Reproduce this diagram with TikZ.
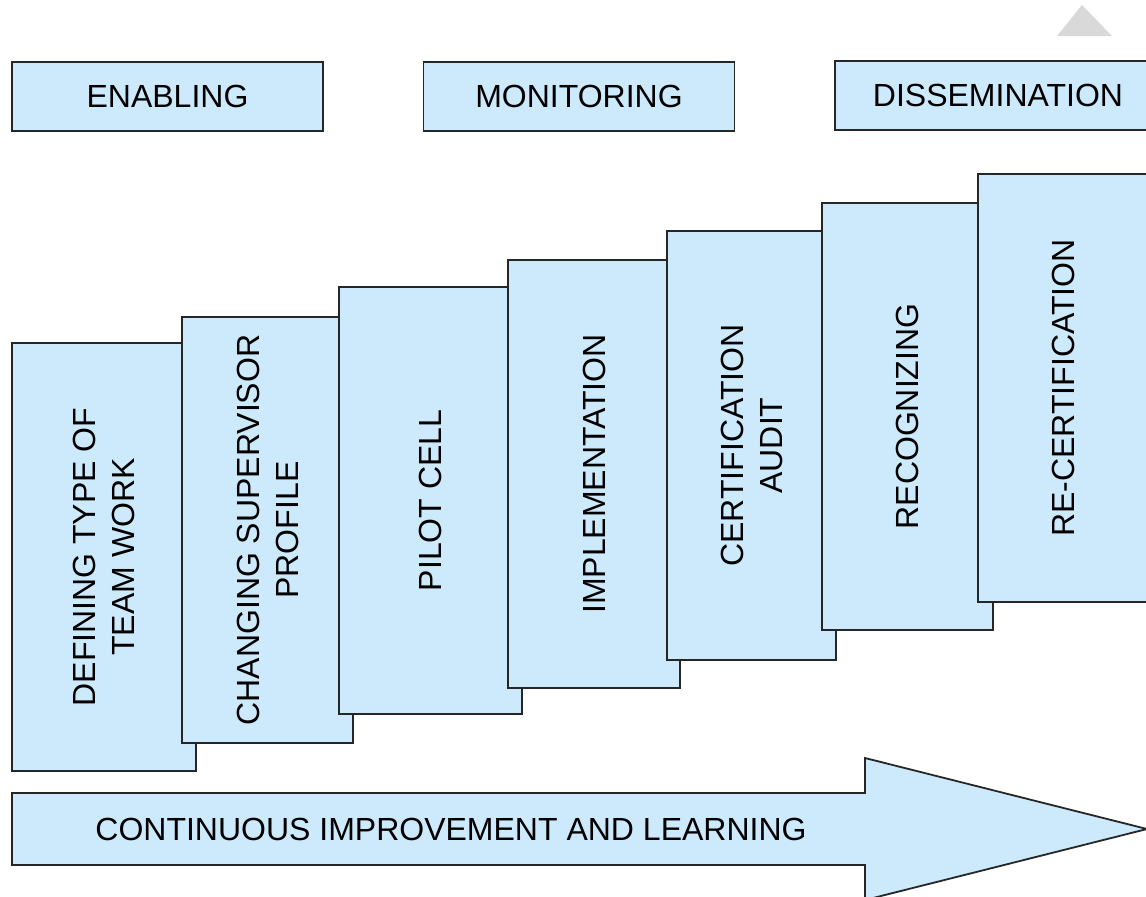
\documentclass[tikz,border=0pt]{standalone}
\usepackage{fontspec}
\setmainfont{Liberation Sans}
\definecolor{stepblue}{RGB}{204,234,252}

\begin{document}
\begin{tikzpicture}[x = 0.5pt, y = -0.5pt,
        boxline/.style = {draw = black!85, fill = stepblue, line width = 0.9pt},
        phasebox/.style = {boxline, minimum width = 155.5pt, minimum height = 34.5pt, inner sep = 0pt, font = \fontsize{16}{19.5}\selectfont},
        stepbox/.style = {boxline, rotate = 90, align = center, inner sep = 0pt, font = \fontsize{16}{19.5}\selectfont}]
        \useasboundingbox (0,0) rectangle (1146,896);
        \fill[gray!30] (1082,5) -- (1112,36) -- (1057,36) -- cycle;
        \node[phasebox] (enabling) at (167.5,96.5) {ENABLING};
        \node[phasebox] (monitoring) at (579,96.5) {MONITORING};
        \node[phasebox, minimum width = 163pt] (dissemination) at (998,95.5) {DISSEMINATION};
        \node[stepbox, minimum width = 214pt, minimum height = 92pt] (defining) at (104,557) {DEFINING TYPE OF\\TEAM WORK};
        \node[stepbox, minimum width = 213pt, minimum height = 85.5pt] (changing) at (267.5,530) {CHANGING SUPERVISOR\\PROFILE};
        \node[stepbox, minimum width = 213.5pt, minimum height = 91.5pt] (pilot) at (430.5,500.5) {PILOT CELL};
        \node[stepbox, minimum width = 214pt, minimum height = 86pt] (implementation) at (594,474) {IMPLEMENTATION};
        \node[stepbox, minimum width = 214.5pt, minimum height = 84.5pt] (audit) at (751.5,445.5) {CERTIFICATION\\AUDIT};
        \node[stepbox, minimum width = 213.5pt, minimum height = 85.5pt] (recognizing) at (907.5,416.5) {RECOGNIZING};
        \node[stepbox, minimum width = 214pt, minimum height = 85.5pt] (recert) at (1063.5,388) {RE-CERTIFICATION};
        \draw[boxline] (12,793) -- (865,793) -- (865,758) -- (1147,829) -- (865,900) -- (865,865) -- (12,865) -- cycle;
        \node[font = \fontsize{16}{19.5}\selectfont] (learning) at (451,829) {CONTINUOUS IMPROVEMENT AND LEARNING};
    \end{tikzpicture}
\end{document}
